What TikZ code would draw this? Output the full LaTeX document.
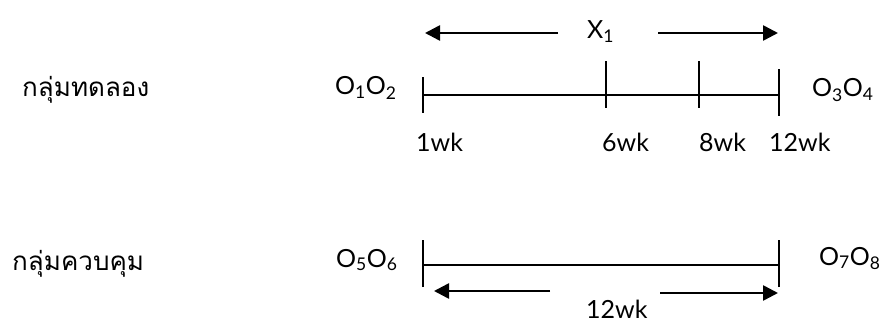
\documentclass[tikz,border=0pt]{standalone}
\usepackage{fontspec}
\setmainfont{Lato}
\newfontfamily\thaifont[Script=Thai]{Loma}
\usetikzlibrary{arrows.meta}
\tikzset{
  lbl/.style={font=\fontsize{25}{25}\selectfont, inner sep=0pt, anchor=base west},
  thai/.style={font=\thaifont\fontsize{26}{26}\selectfont, inner sep=0pt, anchor=base west},
  tline/.style={line width=1.4pt},
  arr/.style={line width=2.6pt, -{Triangle[length=15pt,width=15pt]}}
}
\begin{document}
\begin{tikzpicture}[x=1pt,y=-1pt]
\useasboundingbox (0,0) rectangle (886,323);
% group labels
\node[thai] (g1) at (22,97) {กลุ่มทดลอง};
\node[thai] (g2) at (12,270) {กลุ่มควบคุม};
% observation labels
\node[lbl] (o12) at (335,95) {O\textsubscript{1}O\textsubscript{2}};
\node[lbl] (o34) at (812,97) {O\textsubscript{3}O\textsubscript{4}};
\node[lbl] (o56) at (336,267) {O\textsubscript{5}O\textsubscript{6}};
\node[lbl] (o78) at (819,265) {O\textsubscript{7}O\textsubscript{8}};
% top timeline
\coordinate (t1) at (423,95);
\coordinate (t6) at (606,95);
\coordinate (t8) at (699,95);
\coordinate (t12) at (779,95);
\draw[tline] (t1) -- (t12);
\draw[tline] ([yshift=-18pt]t1) -- ([yshift=18pt]t1);
\draw[tline] ([yshift=-13pt]t6) -- ([yshift=34pt]t6);
\draw[tline] ([yshift=-13pt]t8) -- ([yshift=34pt]t8);
\draw[tline] ([yshift=-21pt]t12) -- ([yshift=26pt]t12);
\node[lbl] (w1) at (416,152) {1wk};
\node[lbl] (w6) at (602,152) {6wk};
\node[lbl] (w8) at (699,152) {8wk};
\node[lbl] (w12) at (769,152) {12wk};
% top arrows
\node[lbl] (x1) at (587,39) {X\textsubscript{1}};
\coordinate (al0) at (558,33);
\coordinate (al1) at (425,33);
\coordinate (ar0) at (658,33);
\coordinate (ar1) at (778,33);
\draw[arr] (al0) -- (al1);
\draw[arr] (ar0) -- (ar1);
% bottom timeline
\coordinate (b1) at (423,265);
\coordinate (b12) at (779,265);
\draw[tline] (b1) -- (b12);
\draw[tline] ([yshift=-22pt]b1) -- ([yshift=25pt]b1);
\draw[tline] ([yshift=-22pt]b12) -- ([yshift=25pt]b12);
\coordinate (bl0) at (550,291);
\coordinate (bl1) at (434,291);
\coordinate (br0) at (660,293);
\coordinate (br1) at (778,293);
\draw[arr] (bl0) -- (bl1);
\draw[arr] (br0) -- (br1);
\node[lbl] (w12b) at (586,318) {12wk};
\end{tikzpicture}
\end{document}
